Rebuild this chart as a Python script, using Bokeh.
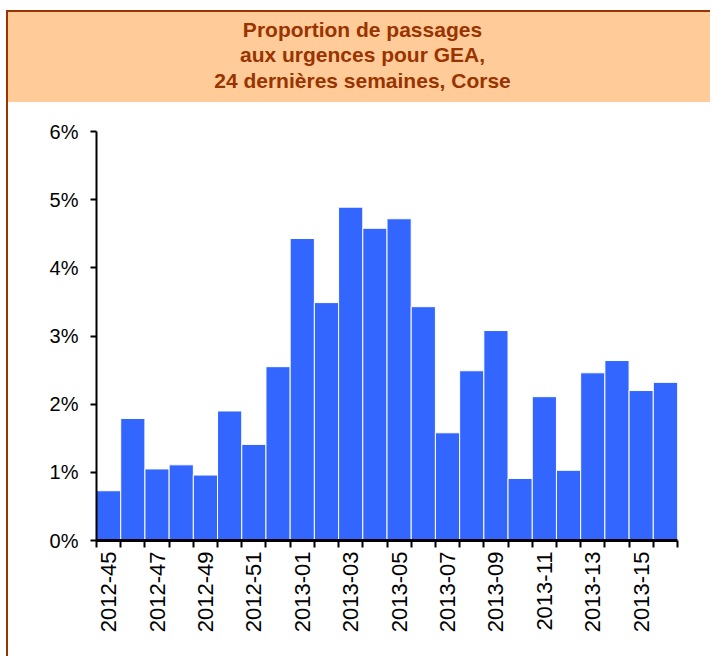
import math
from bokeh.plotting import figure
from bokeh.layouts import column
from bokeh.models import Range1d, FixedTicker, PrintfTickFormatter, Label
from bokeh.embed import file_html
from bokeh.resources import INLINE

# ---- data ----
weeks = ["2012-45", "2012-46", "2012-47", "2012-48", "2012-49", "2012-50",
         "2012-51", "2012-52", "2013-01", "2013-02", "2013-03", "2013-04",
         "2013-05", "2013-06", "2013-07", "2013-08", "2013-09", "2013-10",
         "2013-11", "2013-12", "2013-13", "2013-14", "2013-15", "2013-16"]
values = [0.73, 1.79, 1.05, 1.11, 0.96, 1.90, 1.41, 2.55, 4.43, 3.49, 4.89, 4.58,
          4.72, 3.43, 1.58, 2.49, 3.08, 0.91, 2.11, 1.03, 2.46, 2.64, 2.20, 2.32]
y_ticks = [0, 1, 2, 3, 4, 5, 6]
title_text = "Proportion de passages\naux urgences pour GEA,\n24 dernières semaines, Corse"

FONT = "Liberation Sans"
BROWN = "#993300"
PEACH = "#FFCC99"
W = 702
HEADER_H = 90
LEFT = 88
RIGHT = W - 669

# ---- header ----
header = figure(width=W, height=HEADER_H, x_range=Range1d(0, 1), y_range=Range1d(0, 1),
                x_axis_type=None, y_axis_type=None, toolbar_location=None,
                output_backend="svg", min_border_left=LEFT, min_border_right=RIGHT,
                min_border_top=0, min_border_bottom=0,
                background_fill_color=None, border_fill_color=None,
                outline_line_color=None, styles={"background-color": PEACH})
header.grid.visible = False
header.add_layout(Label(x=(354 - LEFT) / (W - LEFT - RIGHT), y=(HEADER_H - 5) / HEADER_H,
                        text=title_text, text_align="center", text_baseline="top",
                        text_font=FONT, text_font_size="21px", text_font_style="bold",
                        text_color=BROWN, text_line_height=1.12))

# ---- chart ----
idx = list(range(len(weeks)))
p = figure(width=W, height=554, x_range=Range1d(-0.5, len(weeks) - 0.5),
           y_range=Range1d(0, 6), toolbar_location=None, output_backend="svg",
           min_border_left=LEFT, min_border_right=RIGHT, min_border_top=29,
           min_border_bottom=554 - 438, outline_line_color=None,
           background_fill_color="white", border_fill_color="white")
p.grid.visible = False

p.vbar(x=idx, top=values, width=1.0, bottom=0, fill_color="#3366FF",
       line_color="white", line_width=1)

# x axis
xa = p.xaxis[0]
xa.ticker = FixedTicker(ticks=[i for i in idx if i % 2 == 0],
                        minor_ticks=[i - 0.5 for i in idx] + [len(weeks) - 0.5])
xa.major_label_overrides = {i: weeks[i] for i in idx if i % 2 == 0}
xa.major_label_orientation = math.pi / 2
xa.major_tick_out = 0
xa.major_tick_in = 0
xa.minor_tick_out = 7
xa.minor_tick_in = 0
xa.minor_tick_line_color = "black"
xa.minor_tick_line_width = 2
xa.axis_line_width = 3
xa.axis_line_color = "black"
xa.major_label_text_font = FONT
xa.major_label_text_font_size = "22px"
xa.major_label_text_color = "black"
xa.major_label_standoff = 4

# y axis
ya = p.yaxis[0]
ya.ticker = FixedTicker(ticks=y_ticks)
ya.formatter = PrintfTickFormatter(format="%d%%")
ya.major_tick_out = 6
ya.major_tick_in = 0
ya.major_tick_line_width = 2
ya.major_tick_line_color = "black"
ya.minor_tick_line_color = None
ya.axis_line_width = 2
ya.axis_line_color = "black"
ya.major_label_text_font = FONT
ya.major_label_text_font_size = "20px"
ya.major_label_text_color = "black"
ya.major_label_standoff = 12

layout = column(header, p, spacing=0,
                styles={"border-left": f"2px solid {BROWN}",
                        "border-top": f"2px solid {BROWN}",
                        "margin-left": "6px", "margin-top": "10px"})

open("out.html", "w").write(file_html(layout, INLINE))
